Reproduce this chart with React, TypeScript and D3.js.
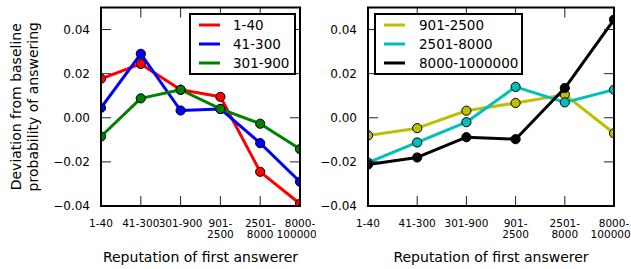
import React from "react";
import * as d3 from "d3";

const categories = ["1-40", "41-300", "301-900", "901-\n2500", "2501-\n8000", "8000-\n1000000"];
const yTicks = [-0.04, -0.02, 0.0, 0.02, 0.04];

const leftNames = ["1-40", "41-300", "301-900"];
const leftColors = ["#ff0000", "#0000ff", "#008000"];
const red140 = [0.0177, 0.0244, 0.0127, 0.0095, -0.0245, -0.039];
const blue41300 = [0.0045, 0.029, 0.0033, 0.004, -0.0115, -0.029];
const green301900 = [-0.0085, 0.0088, 0.0127, 0.004, -0.0027, -0.0142];

const rightNames = ["901-2500", "2501-8000", "8000-1000000"];
const rightColors = ["#bfbf00", "#00bfbf", "#000000"];
const yellow9012500 = [-0.008, -0.0047, 0.0032, 0.0067, 0.0105, -0.007];
const cyan25018000 = [-0.0203, -0.0112, -0.002, 0.014, 0.007, 0.0127];
const black8000 = [-0.0212, -0.018, -0.0088, -0.0097, 0.0135, 0.0445];

const FONT = "DejaVu Sans, Verdana, sans-serif";
const yTop = 7.5;
const yBot = 206;

type PanelProps = {
  id: string;
  x0: number;
  x1: number;
  series: number[][];
  names: string[];
  colors: string[];
  legend: { x: number; w: number; lineX: number; textX: number };
  labelClip: number;
  yLabel?: boolean;
};

function Panel({ id, x0, x1, series, names, colors, legend, labelClip, yLabel }: PanelProps) {
  const x = d3.scalePoint<string>().domain(categories).range([x0, x1]);
  const y = d3.scaleLinear().domain([-0.04, 0.05]).range([yBot, yTop]);
  const line = d3
    .line<number>()
    .x((_, i) => x(categories[i]) as number)
    .y((d) => y(d));
  const tickLen = 10;
  const fmt = (v: number) => (v < 0 ? "\u2212" : "") + Math.abs(v).toFixed(2);
  const rows = [25, 44, 63];
  return (
    <g>
      <defs>
        <clipPath id={`axclip-${id}`}>
          <rect x={x0} y={yTop} width={x1 - x0} height={yBot - yTop} />
        </clipPath>
        <clipPath id={`lblclip-${id}`}>
          <rect x={0} y={0} width={labelClip} height={269} />
        </clipPath>
      </defs>
      <g clipPath={`url(#axclip-${id})`}>
        {series.map((s, si) => (
          <g key={si}>
            <path d={line(s) || ""} fill="none" stroke={colors[si]} strokeWidth={3} strokeLinejoin="round" />
            {s.map((v, i) => (
              <circle
                key={i}
                cx={x(categories[i]) as number}
                cy={y(v)}
                r={4.6}
                fill={colors[si]}
                stroke="#000"
                strokeWidth={1}
              />
            ))}
          </g>
        ))}
      </g>
      {categories.map((c) => (
        <g key={c}>
          <line x1={x(c)} x2={x(c)} y1={yBot} y2={yBot - tickLen} stroke="#222" strokeWidth={1} />
          <line x1={x(c)} x2={x(c)} y1={yTop} y2={yTop + tickLen} stroke="#222" strokeWidth={1} />
        </g>
      ))}
      {yTicks.map((t) => (
        <g key={t}>
          <line x1={x0} x2={x0 + tickLen} y1={y(t)} y2={y(t)} stroke="#222" strokeWidth={1} />
          <line x1={x1} x2={x1 - tickLen} y1={y(t)} y2={y(t)} stroke="#222" strokeWidth={1} />
          <text x={x0 - 11} y={y(t) + 4.4} textAnchor="end" fontSize={12} fontFamily={FONT} fill="#000">
            {fmt(t)}
          </text>
        </g>
      ))}
      <rect x={x0} y={yTop} width={x1 - x0} height={yBot - yTop} fill="none" stroke="#000" strokeWidth={2} />
      <g clipPath={`url(#lblclip-${id})`}>
        {categories.map((c) =>
          c.split("\n").map((part, li) => (
            <text
              key={c + li}
              x={x(c) as number}
              y={226.5 + li * 11}
              textAnchor="middle"
              fontSize={10.5}
              fontFamily={FONT}
              fill="#000"
            >
              {part}
            </text>
          ))
        )}
      </g>
      <text x={(x0 + x1) / 2} y={262} textAnchor="middle" fontSize={14} fontFamily={FONT} fill="#000">
        Reputation of first answerer
      </text>
      {yLabel && (
        <g>
          <text transform={`translate(20.5,${(yTop + yBot) / 2}) rotate(-90)`} textAnchor="middle" fontSize={14} fontFamily={FONT} fill="#000">
            Deviation from baseline
          </text>
          <text transform={`translate(37.5,${(yTop + yBot) / 2}) rotate(-90)`} textAnchor="middle" fontSize={14} fontFamily={FONT} fill="#000">
            probability of answering
          </text>
        </g>
      )}
      <rect x={legend.x} y={14} width={legend.w} height={60} fill="#fff" stroke="#000" strokeWidth={2} />
      {names.map((n, i) => (
        <g key={n}>
          <line x1={legend.lineX} x2={legend.lineX + 21} y1={rows[i]} y2={rows[i]} stroke={colors[i]} strokeWidth={3} />
          <text x={legend.textX} y={rows[i] + 4.9} fontSize={13.5} fontFamily={FONT} fill="#000">
            {n}
          </text>
        </g>
      ))}
    </g>
  );
}

export default function App() {
  return (
    <svg
      width={631}
      height={269}
      style={{ position: "absolute", left: 0, top: 0, background: "#fff" }}
    >
      <rect x={0} y={0} width={631} height={269} fill="#fff" />
      <Panel
        id="l"
        x0={101}
        x1={300}
        series={[red140, blue41300, green301900]}
        names={leftNames}
        colors={leftColors}
        legend={{ x: 190, w: 105, lineX: 199, textX: 233 }}
        labelClip={316}
        yLabel
      />
      <Panel
        id="r"
        x0={368}
        x1={614}
        series={[yellow9012500, cyan25018000, black8000]}
        names={rightNames}
        colors={rightColors}
        legend={{ x: 375, w: 147, lineX: 384, textX: 419 }}
        labelClip={631}
      />
    </svg>
  );
}
